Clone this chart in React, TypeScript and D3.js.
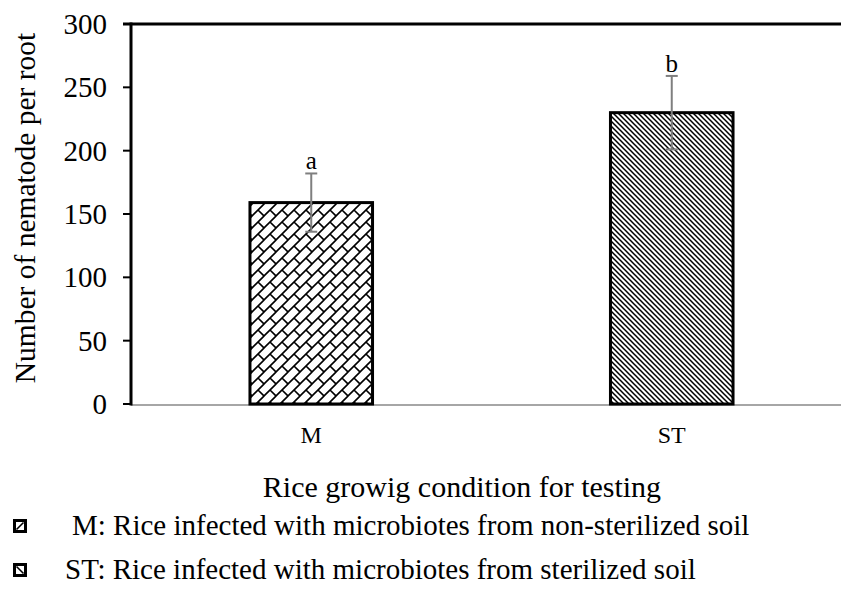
import React, { useEffect, useRef } from "react";
import * as d3 from "d3";

const categories = ["M", "ST"];
const means = [159, 230];
const errors = [23, 29];
const letters = ["a", "b"];
const yTicks = [0, 50, 100, 150, 200, 250, 300];
const legendLabels = [
  "M: Rice infected with microbiotes from non-sterilized soil",
  "ST: Rice infected with microbiotes from sterilized soil",
];
const patterns = ["brick", "hatch"];

const W = 841;
const H = 595;
const FONT = "'Liberation Serif', 'Times New Roman', serif";

export default function App() {
  const ref = useRef<SVGSVGElement>(null);

  useEffect(() => {
    const svg = d3.select(ref.current);
    svg.selectAll("*").remove();

    const left = 131, top = 24, bottom = 404, right = 852;

    const x = d3.scaleBand().domain(categories).range([left, right]).paddingInner(0.66).paddingOuter(0.33);
    const y = d3.scaleLinear().domain([0, 300]).range([bottom, top]);

    const defs = svg.append("defs");
    // diagonal brick
    const pb = defs.append("pattern").attr("id", "brick")
      .attr("patternUnits", "userSpaceOnUse").attr("width", 12).attr("height", 12);
    pb.append("rect").attr("width", 12).attr("height", 12).attr("fill", "#fff");
    pb.append("path").attr("d", "M-1,13 L13,-1 M-1,1 L1,-1 M11,13 L13,11 M6,6 L12,12")
      .attr("stroke", "#000").attr("stroke-width", 1.6);
    // dense downward diagonal
    const ph = defs.append("pattern").attr("id", "hatch")
      .attr("patternUnits", "userSpaceOnUse").attr("width", 5).attr("height", 5);
    ph.append("rect").attr("width", 5).attr("height", 5).attr("fill", "#fff");
    ph.append("path").attr("d", "M-1,-1 L6,6 M-1,4 L1,6 M4,-1 L6,1")
      .attr("stroke", "#000").attr("stroke-width", 1.5);

    // baseline
    svg.append("line").attr("x1", left).attr("x2", W).attr("y1", bottom + 1).attr("y2", bottom + 1)
      .attr("stroke", "#a6a6a6").attr("stroke-width", 2);

    // bars
    svg.selectAll("rect.bar").data(categories).enter().append("rect")
      .attr("class", "bar")
      .attr("x", (d) => x(d)!)
      .attr("y", (d, i) => y(means[i]))
      .attr("width", x.bandwidth())
      .attr("height", (d, i) => y(0) - y(means[i]))
      .attr("fill", (d, i) => `url(#${patterns[i]})`)
      .attr("stroke", "#000").attr("stroke-width", 3);

    // error bars
    const eb = svg.selectAll("g.err").data(categories).enter().append("g").attr("class", "err")
      .attr("stroke", "#7f7f7f").attr("stroke-width", 2);
    eb.append("line")
      .attr("x1", (d) => x(d)! + x.bandwidth() / 2).attr("x2", (d) => x(d)! + x.bandwidth() / 2)
      .attr("y1", (d, i) => y(means[i] + errors[i])).attr("y2", (d, i) => y(means[i] - errors[i]));
    [1, -1].forEach((s) => {
      eb.append("line")
        .attr("x1", (d) => x(d)! + x.bandwidth() / 2 - 6).attr("x2", (d) => x(d)! + x.bandwidth() / 2 + 6)
        .attr("y1", (d, i) => y(means[i] + s * errors[i])).attr("y2", (d, i) => y(means[i] + s * errors[i]));
    });

    svg.selectAll("text.letter").data(categories).enter().append("text")
      .attr("x", (d) => x(d)! + x.bandwidth() / 2)
      .attr("y", (d, i) => y(means[i] + errors[i]) - 4)
      .attr("text-anchor", "middle").attr("font-family", FONT).attr("font-size", 25)
      .text((d, i) => letters[i]);

    // left axis
    svg.append("line").attr("x1", left).attr("x2", left).attr("y1", top - 1.5).attr("y2", bottom + 1.5)
      .attr("stroke", "#000").attr("stroke-width", 3);
    svg.append("line").attr("x1", left - 8).attr("x2", W).attr("y1", top).attr("y2", top)
      .attr("stroke", "#000").attr("stroke-width", 3);
    svg.selectAll("line.tick").data(yTicks).enter().append("line")
      .attr("x1", left - 8).attr("x2", left).attr("y1", (d) => y(d)).attr("y2", (d) => y(d))
      .attr("stroke", "#000").attr("stroke-width", 2);
    svg.selectAll("text.ytick").data(yTicks).enter().append("text")
      .attr("x", 107).attr("y", (d) => y(d)).attr("dy", "0.35em")
      .attr("text-anchor", "end").attr("font-family", FONT).attr("font-size", 29)
      .text((d) => d);

    svg.selectAll("text.xtick").data(categories).enter().append("text")
      .attr("x", (d) => x(d)! + x.bandwidth() / 2).attr("y", 443)
      .attr("text-anchor", "middle").attr("font-family", FONT).attr("font-size", 24)
      .text((d) => d);

    svg.append("text").attr("transform", `translate(35,208) rotate(-90)`)
      .attr("text-anchor", "middle").attr("font-family", FONT).attr("font-size", 29.5)
      .text("Number of nematode per root");

    svg.append("text").attr("x", 462).attr("y", 497)
      .attr("text-anchor", "middle").attr("font-family", FONT).attr("font-size", 30)
      .text("Rice growig condition for testing");

    // legend
    const lg = svg.selectAll("g.lg").data(legendLabels).enter().append("g").attr("class", "lg")
      .attr("transform", (d, i) => `translate(0,${526 + i * 44})`);
    lg.append("rect").attr("x", 13).attr("y", -7).attr("width", 14).attr("height", 14)
      .attr("fill", "#000");
    lg.append("rect").attr("x", 16).attr("y", -4).attr("width", 8).attr("height", 8)
      .attr("fill", "#fff");
    lg.append("path").attr("d", (d, i) => (i === 0 ? "M16.5,3.5 L23.5,-3.5" : "M16.5,-3.5 L23.5,3.5"))
      .attr("stroke", "#000").attr("stroke-width", 1.6);
    lg.append("text").attr("x", (d, i) => (i === 0 ? 72 : 65)).attr("y", 9)
      .attr("font-family", FONT).attr("font-size", 29)
      .text((d) => d);
  }, []);

  return <svg ref={ref} width={W} height={H} style={{ position: "absolute", left: 0, top: 0, background: "#fff" }} />;
}
